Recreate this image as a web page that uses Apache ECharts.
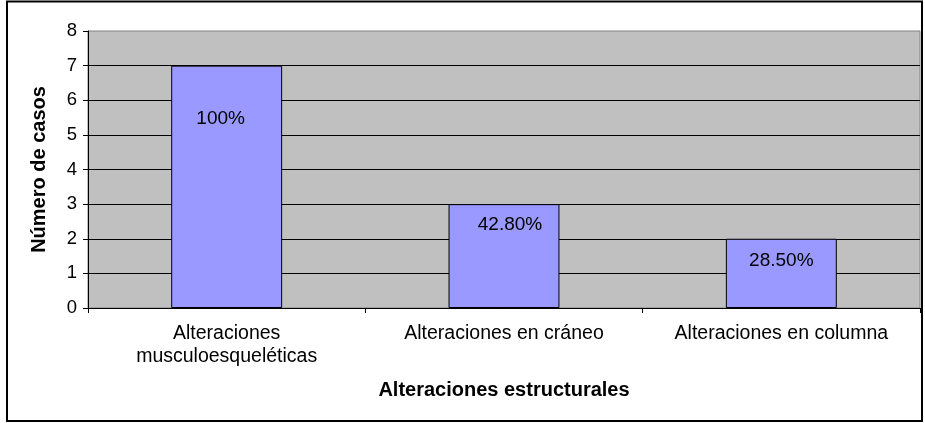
<!DOCTYPE html>
<html>
<head>
<meta charset="utf-8">
<script src="https://cdn.jsdelivr.net/npm/echarts@6/dist/echarts.min.js"></script>
<style>
html,body{margin:0;padding:0;background:#fff;}
#chart{width:925px;height:423px;}
</style>
</head>
<body>
<div id="chart"></div>
<script>
const categories = ["Alteraciones\nmusculoesqueléticas", "Alteraciones en cráneo", "Alteraciones en columna"];
const values = [7, 3, 2];
const percentLabels = ["100%", "42.80%", "28.50%"];
const yTicks = [0, 1, 2, 3, 4, 5, 6, 7, 8];
const xTitle = "Alteraciones estructurales";
const yTitle = "Número de casos";

const FONT = "'Liberation Sans', Arial, sans-serif";
const chart = echarts.init(document.getElementById('chart'));

// label placement tweaks (px from bar top, horizontal nudge)
const labelPlace = [[53, -6], [21, 6], [22, 0]];

chart.setOption({
  animation: false,
  backgroundColor: '#ffffff',
  textStyle: { fontFamily: FONT },
  graphic: [{
    type: 'rect',
    shape: { x: 7, y: 1.5, width: 915, height: 419.5 },
    style: { fill: 'none', stroke: '#000', lineWidth: 2 },
    z: 100
  }],
  grid: {
    left: 88, right: 5, top: 31, bottom: 115,
    show: true, backgroundColor: '#C0C0C0', borderColor: '#808080', borderWidth: 1
  },
  xAxis: {
    type: 'category',
    data: categories,
    name: xTitle,
    nameLocation: 'middle',
    nameGap: 72,
    nameTextStyle: { fontFamily: FONT, fontSize: 20, fontWeight: 'bold', color: '#000' },
    axisLine: { show: true, lineStyle: { color: '#000', width: 1 } },
    axisTick: { show: true, length: 5, lineStyle: { color: '#000' } },
    axisLabel: { fontFamily: FONT, fontSize: 19.5, color: '#000', margin: 14, lineHeight: 23, interval: 0 },
    splitLine: { show: false }
  },
  yAxis: {
    type: 'value',
    min: yTicks[0],
    max: yTicks[yTicks.length - 1],
    interval: 1,
    name: yTitle,
    nameLocation: 'middle',
    nameGap: 39,
    nameTextStyle: { fontFamily: FONT, fontSize: 20, fontWeight: 'bold', color: '#000' },
    axisLine: { show: true, lineStyle: { color: '#000', width: 1 } },
    axisTick: { show: true, length: 5, lineStyle: { color: '#000' } },
    axisLabel: { fontFamily: FONT, fontSize: 18.5, color: '#000', margin: 11 },
    splitLine: { show: true, showMaxLine: false, showMinLine: false, lineStyle: { color: '#000', width: 1 } }
  },
  series: [{
    type: 'bar',
    barWidth: '40%',
    data: values.map((v, i) => ({
      value: v,
      label: {
        show: true,
        position: ['50%', labelPlace[i][0]],
        offset: [labelPlace[i][1], 0],
        align: 'center',
        verticalAlign: 'middle',
        formatter: () => percentLabels[i]
      }
    })),
    itemStyle: { color: '#9999FF', borderColor: '#000', borderWidth: 1 },
    label: { fontFamily: FONT, fontSize: 19, color: '#000' }
  }]
});
</script>
</body>
</html>
